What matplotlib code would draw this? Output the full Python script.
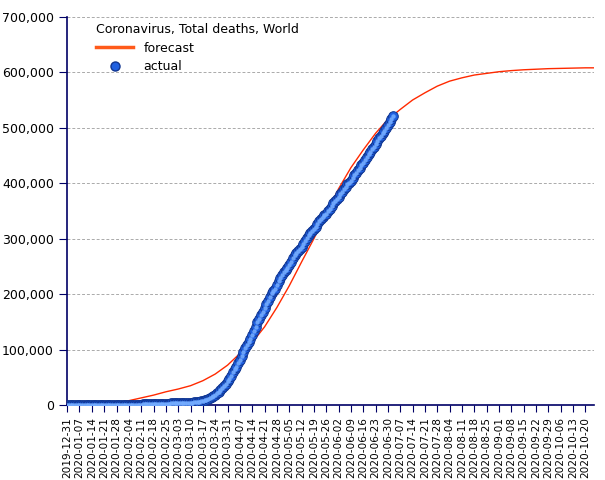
import numpy as np
import pandas as pd
import matplotlib
matplotlib.use("Agg")
import matplotlib.pyplot as plt
from matplotlib.lines import Line2D
from matplotlib.ticker import FuncFormatter

# actual cumulative deaths, daily from 2019-12-31
actual_start = "2019-12-31"
actual_deaths = [
    0, 0, 0, 0, 0, 0, 0, 0, 0, 0, 0,
    1, 1, 1, 2, 2, 2, 3, 3, 3, 6,
    9, 17, 25, 41, 56, 80, 106, 132, 170, 213, 259,
    304, 362, 426, 492, 565, 638, 724, 813, 910, 1018,
    1115, 1261, 1383, 1526, 1669, 1775, 1873, 2009, 2126, 2247,
    2360, 2460, 2618, 2699, 2763, 2800, 2858, 2923, 2977,
    3050, 3110, 3176, 3257, 3345, 3456, 3558, 3803, 4012, 4262,
    4611, 4948, 5410, 5833, 6513, 7167, 7907, 8804, 10044, 11386,
    13039, 14719, 16569, 18931, 21310, 24371, 27892, 31466, 34796, 38311, 42679,
    47313, 53218, 59239, 64730, 69535, 75077, 81968, 88470, 95688, 102722,
    108828, 114149, 119627, 125896, 133599, 141113, 149033, 156057, 161796, 167130,
    174452, 181810, 188336, 195755, 201412, 205850, 210128, 216241, 223007, 228831,
    234333, 239608, 243810, 247474, 252938, 258884, 264432, 269873, 274299, 278156,
    281756, 285889, 291328, 296470, 301837, 306215, 309938, 313054, 316668, 321567,
    326400, 331600, 336100, 339900, 343000, 344800, 349300, 354400, 359700, 364000, 368000,
    371400, 375000, 380000, 385000, 390000, 394000, 398000, 401000, 404000, 409000,
    414000, 419000, 424000, 428000, 432000, 436000, 441000, 447000, 452000, 457000,
    462000, 466000, 471000, 476000, 481000, 486000, 490000, 495000, 499000, 505000,
    510000, 516000, 522000,
]

# forecast, weekly
forecast_dates = [
    "2020-02-03", "2020-02-04", "2020-02-11", "2020-02-18", "2020-02-25",
    "2020-03-03", "2020-03-10", "2020-03-17", "2020-03-24", "2020-03-31",
    "2020-04-07", "2020-04-14", "2020-04-21", "2020-04-28", "2020-05-05",
    "2020-05-12", "2020-05-19", "2020-05-26", "2020-06-02", "2020-06-09",
    "2020-06-16", "2020-06-23", "2020-06-30", "2020-07-07", "2020-07-14",
    "2020-07-21", "2020-07-28", "2020-08-04", "2020-08-11", "2020-08-18",
    "2020-08-25", "2020-09-01", "2020-09-08", "2020-09-15", "2020-09-22",
    "2020-09-29", "2020-10-06", "2020-10-13", "2020-10-20", "2020-10-25",
]
forecast_deaths = [
    7500, 8000, 13000, 18000, 24000,
    29000, 35000, 44000, 56000, 72000,
    93000, 113000, 141000, 176000, 215000,
    258000, 300000, 345000, 390000, 428000,
    460000, 490000, 515000, 533000, 550000,
    563000, 575000, 584000, 590000, 595000,
    598000, 601000, 603000, 604500, 605500,
    606500, 607000, 607500, 608000, 608000,
]

x_start = "2019-12-31"
x_end = "2020-10-25"

actual_x = pd.date_range(actual_start, periods=len(actual_deaths), freq="D")
forecast_x = pd.to_datetime(forecast_dates)
ticks = pd.date_range(x_start, "2020-10-20", freq="7D")

fig = plt.figure(figsize=(6.05, 4.8), dpi=100)
ax = fig.add_axes([0.111, 0.156, 0.871, 0.809])

navy = "#000066"
ax.plot(forecast_x, forecast_deaths, color="#ff2a00", lw=1.0, zorder=3)
ax.scatter(actual_x, actual_deaths, s=48, color="#2060e0", edgecolors="#103590",
           linewidths=0.7, zorder=4)
ax.scatter(actual_x, actual_deaths, s=10, color="#74acff", linewidths=0, zorder=5,
           alpha=0.9)

ax.set_xlim(pd.Timestamp(x_start), pd.Timestamp(x_end))
ax.set_ylim(0, 700000)
ax.set_yticks(np.arange(0, 700001, 100000))
ax.yaxis.set_major_formatter(FuncFormatter(lambda v, p: f"{int(v):,}"))
ax.set_xticks(ticks)
ax.set_xticklabels([t.strftime("%Y-%m-%d") for t in ticks], rotation=90, fontsize=7.6)
ax.tick_params(axis="y", labelsize=9, colors=navy, labelcolor="black", length=6)
ax.tick_params(axis="x", colors=navy, labelcolor="black", length=5)

ax.grid(axis="y", color="#aaaaaa", linestyle=(0, (3, 2)), linewidth=0.7)
ax.set_axisbelow(True)
for s in ["top", "right"]:
    ax.spines[s].set_visible(False)
for s in ["left", "bottom"]:
    ax.spines[s].set_color(navy)
    ax.spines[s].set_linewidth(1.2)

handles = [
    Line2D([], [], color="#ff5a1a", lw=2.5),
    Line2D([], [], marker="o", ls="", markersize=6.5, markerfacecolor="#2060e0",
           markeredgecolor="#103590"),
]
leg = ax.legend(handles, ["forecast", "actual"], title="Coronavirus, Total deaths, World",
                loc="upper left", bbox_to_anchor=(0.045, 0.997), frameon=False,
                fontsize=9, title_fontsize=9, handlelength=3, borderaxespad=0,
                labelspacing=0.45)
leg._legend_box.align = "left"

fig.savefig("out.png", dpi=100)
